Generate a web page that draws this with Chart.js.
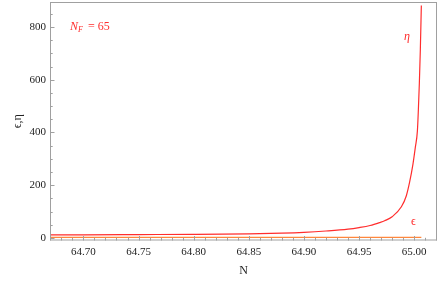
<!DOCTYPE html>
<html><head><meta charset="utf-8">
<script src="https://cdn.jsdelivr.net/npm/chart.js@4"></script>
<style>html,body{margin:0;padding:0;background:#fff}#c{display:block}</style>
</head><body>
<canvas id="c" width="440" height="283"></canvas>
<script>
// Data
const nValues   = [64.669, 64.70, 64.75, 64.80, 64.85, 64.88, 64.90, 64.92, 64.94, 64.95, 64.96, 64.9686, 64.9732, 64.98, 64.9884, 64.9929, 64.9959, 64.9989, 65.0011, 65.0029, 65.0038, 65.0047, 65.0056, 65.0065];
const etaValues = [11, 11.5, 12.5, 13.5, 15.5, 18, 21, 26, 33, 39, 47, 58, 65, 80, 118, 160, 212, 280, 345, 405, 486, 588, 716, 882];
const epsValues = [2, 2, 2, 2, 2, 2, 2, 2, 2, 2, 2, 2, 2, 2, 2, 2, 2, 2, 2, 2, 2, 2, 2, 2];
const xTickValues = [64.70, 64.75, 64.80, 64.85, 64.90, 64.95, 65.00];
const yTickValues = [0, 200, 400, 600, 800];

const RED = 'rgb(255,45,45)';
const ORANGE = 'rgb(255,135,60)';
const FRAME = '#a0a0a0';
const SERIF = '"Liberation Serif", "Times New Roman", serif';

const framePlugin = {
  id: 'frame',
  afterDraw(chart) {
    const {ctx, chartArea: a, scales: {x, y}} = chart;
    ctx.save();
    ctx.strokeStyle = FRAME;
    ctx.lineWidth = 1;
    ctx.strokeRect(a.left + 0.5, a.top + 0.5, a.right - a.left - 1, a.bottom - a.top - 1);
    ctx.beginPath();
    for (let i = Math.ceil(x.min * 100); i <= Math.floor(x.max * 100); i++) {
      const v = i / 100;
      const major = i % 5 === 0;
      const px = Math.round(x.getPixelForValue(v)) + 0.5;
      ctx.moveTo(px, a.bottom);
      ctx.lineTo(px, a.bottom - (major ? 4.5 : 2.7));
    }
    for (let v = 0; v <= y.max; v += 50) {
      const major = v % 200 === 0;
      const py = Math.round(y.getPixelForValue(v)) + 0.5;
      ctx.moveTo(a.left, py);
      ctx.lineTo(a.left + (major ? 4.5 : 2.7), py);
    }
    ctx.stroke();
    // annotations
    ctx.fillStyle = RED;
    ctx.textBaseline = 'middle';
    ctx.font = 'italic 12px ' + SERIF;
    ctx.fillText('N', 70, 27);
    ctx.font = 'italic 8px ' + SERIF;
    ctx.fillText('F', 78, 30);
    ctx.font = '12px ' + SERIF;
    ctx.fillText('= 65', 88, 27);
    ctx.font = 'italic 12px ' + SERIF;
    ctx.fillText('η', 404, 37);
    ctx.font = '12px ' + SERIF;
    ctx.fillText('ϵ', 411, 222);
    ctx.restore();
  }
};

function build() {
  new Chart(document.getElementById('c'), {
    type: 'line',
    data: {
      datasets: [
        {label: 'eps', data: nValues.map((n, i) => ({x: n, y: epsValues[i]})), borderColor: ORANGE, borderWidth: 1.3, pointRadius: 0, tension: 0},
        {label: 'eta', data: nValues.map((n, i) => ({x: n, y: etaValues[i]})), borderColor: RED, borderWidth: 1.2, pointRadius: 0, cubicInterpolationMode: 'monotone'}
      ]
    },
    options: {
      responsive: false,
      animation: false,
      layout: {padding: {top: 2, right: 3, left: 0, bottom: 0}},
      plugins: {legend: {display: false}, tooltip: {enabled: false}},
      scales: {
        x: {
          type: 'linear', min: 64.6697, max: 65.0207,
          afterFit(s) { s.height = 42.5; s.paddingLeft = 0; s.paddingRight = 0; },
          afterBuildTicks(s) { s.ticks = xTickValues.map(v => ({value: v})); },
          grid: {display: false, drawTicks: false},
          border: {display: false},
          ticks: {padding: 5, color: '#222', font: {family: SERIF, size: 11}, callback: v => Number(v).toFixed(2), maxRotation: 0, autoSkip: false},
          title: {display: true, text: 'N', color: '#222', font: {family: SERIF, size: 12}, padding: {top: 0, bottom: 5}}
        },
        y: {
          type: 'linear', min: -10, max: 895,
          afterFit(s) { s.width = 50; s.paddingTop = 0; s.paddingBottom = 0; },
          afterBuildTicks(s) { s.ticks = yTickValues.map(v => ({value: v})); },
          grid: {display: false, drawTicks: false},
          border: {display: false},
          ticks: {padding: 4, color: '#222', font: {family: SERIF, size: 11}},
          title: {display: true, text: 'ϵ,η', color: '#222', font: {family: SERIF, size: 12}, padding: {top: 11, bottom: 0}}
        }
      }
    },
    plugins: [framePlugin]
  });
}

Promise.all([
  document.fonts.load('12px "Liberation Serif"'),
  document.fonts.load('italic 12px "Liberation Serif"')
]).then(build, build);
</script>
</body></html>
